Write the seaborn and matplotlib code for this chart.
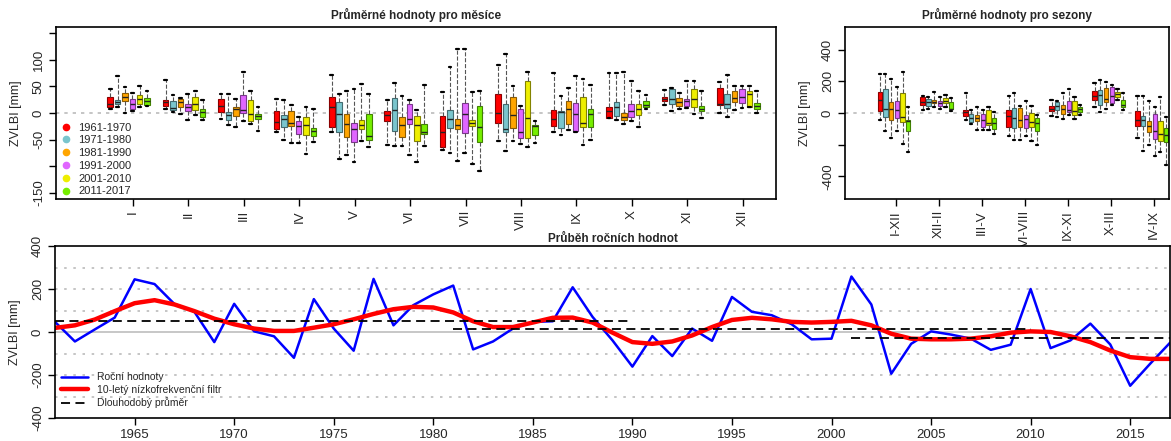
import numpy as np
import pandas as pd
import seaborn as sns
import matplotlib.pyplot as plt
import matplotlib.colors as mcolors
from matplotlib.lines import Line2D

sns.set_style("ticks")
plt.rcParams['font.family'] = ['Liberation Sans', 'DejaVu Sans']

decades = ["1961-1970", "1971-1980", "1981-1990", "1991-2000", "2001-2010", "2011-2017"]
box_colors = ["#FF0000", "#7AC5CD", "#FFA500", "#E066FF", "#EEEE00", "#76EE00"]
months = ["I", "II", "III", "IV", "V", "VI", "VII", "VIII", "IX", "X", "XI", "XII"]
seasons = ["I-XII", "XII-II", "III-V", "VI-VIII", "IX-XI", "X-III", "IV-IX"]

# [min, q1, median, q3, max] for every month, one list per decade
month_1961_1970 = [[7, 11, 17, 30, 45], [8, 14, 21, 25, 62], [-11, 1, 14, 26, 35], [-36, -30, -17, 3, 27],
                   [-36, -27, 11, 31, 72], [-60, -16, -3, 3, 24], [-69, -64, -36, -5, 39], [-53, -19, 0, 36, 91],
                   [-36, -25, -11, 6, 75], [-10, -9, 3, 12, 75], [15, 22, 26, 30, 44], [0, 16, 17, 47, 59]]
month_1971_1980 = [[11, 17, 20, 24, 70], [2, 5, 9, 22, 34], [-23, -14, -3, 1, 36], [-50, -26, -11, -3, 24],
                   [-87, -36, -2, 21, 36], [-62, -33, 6, 29, 56], [-75, -28, -11, 6, 87], [-71, -36, -31, 17, 112],
                   [-42, -28, 1, 4, 32], [-14, -6, 11, 21, 75], [3, 17, 26, 46, 48], [-7, 9, 17, 36, 72]]
month_1981_1990 = [[0, 23, 31, 37, 49], [-1, 11, 20, 26, 28], [-26, -6, 7, 12, 26], [-56, -24, -19, 3, 16],
                   [-79, -45, -21, -1, 41], [-62, -45, -22, -8, 32], [-91, -31, -23, -11, 121], [-53, -28, -3, 30, 50],
                   [-32, -20, 7, 22, 47], [-21, -14, -8, 0, 78], [8, 14, 20, 28, 37], [6, 21, 28, 41, 50]]
month_1991_2000 = [[4, 7, 17, 26, 37], [-13, 4, 12, 17, 36], [-16, 0, 6, 34, 77], [-57, -39, -25, -16, -7],
                   [-92, -54, -31, -19, 46], [-79, -20, -12, 17, 25], [-76, -37, -2, 19, 121], [-58, -48, -36, 7, 14],
                   [-36, -34, -2, 19, 69], [-16, -7, 3, 17, 61], [9, 14, 22, 27, 61], [9, 19, 31, 45, 50]]
month_2001_2010 = [[11, 17, 27, 33, 51], [-3, 6, 17, 31, 42], [-21, -16, -2, 25, 41], [-78, -41, -22, -8, 11],
                   [-52, -31, -22, -14, 54], [-92, -53, -22, -5, 5], [-97, -24, -19, -14, 39], [-64, -47, -9, 61, 78],
                   [-61, -26, -19, 30, 64], [-26, -4, 7, 17, 42], [-2, 11, 26, 45, 60], [11, 12, 36, 41, 50]]
month_2011_2017 = [[13, 15, 22, 29, 41], [-14, -8, 1, 8, 24], [-34, -11, -6, -2, 11], [-55, -44, -33, -28, 8],
                   [-64, -50, -44, -1, 36], [-62, -39, -36, -21, 52], [-109, -55, -26, 14, 42], [-56, -42, -24, -22, -16],
                   [-50, -27, -2, 7, 52], [7, 11, 16, 22, 34], [-10, 4, 8, 14, 42], [0, 7, 14, 19, 42]]

# [min, q1, median, q3, max] for every season, one list per decade
season_1961_1970 = [[-42, 11, 82, 133, 246], [17, 48, 69, 101, 109], [-42, -19, 4, 21, 124], [-143, -90, -17, 19, 105],
                    [-19, 13, 27, 44, 84], [38, 84, 109, 137, 187], [-160, -84, -46, 15, 105]]
season_1971_1980 = [[-116, -25, 25, 152, 246], [27, 42, 69, 88, 99], [-67, -55, -29, -8, 17], [-173, -95, -32, 34, 126],
                    [-25, 19, 46, 67, 78], [6, 53, 112, 143, 210], [-240, -84, -42, -21, 109]]
season_1981_1990 = [[-160, -44, 28, 70, 215], [36, 61, 72, 82, 130], [-105, -53, -34, -13, 36], [-168, -88, -46, 34, 42],
                    [-38, -4, 27, 50, 124], [27, 69, 88, 158, 198], [-204, -120, -84, -48, 78]]
season_1991_2000 = [[-116, -34, 21, 78, 162], [27, 46, 63, 76, 99], [-105, -88, -42, -4, 17], [-143, -95, -36, -11, 78],
                    [-15, 8, 21, 76, 154], [53, 63, 109, 162, 179], [-269, -164, -112, -8, 38]]
season_2001_2010 = [[-194, -59, -25, 126, 257], [36, 63, 78, 93, 112], [-105, -74, -63, 19, 36], [-179, -86, -55, 0, 46],
                    [-38, -15, 11, 78, 101], [84, 99, 118, 133, 152], [-248, -175, -133, -53, 99]]
season_2011_2017 = [[-248, -112, -53, -44, 40], [13, 25, 27, 72, 95], [-130, -101, -63, -32, 4], [-202, -114, -66, -34, -11],
                    [-15, 6, 23, 36, 50], [17, 38, 48, 82, 126], [-330, -181, -137, -93, -25]]

years = list(range(1961, 2018))
annual = [47, -44, 12, 67, 245, 223, 130, 94, -47, 131, 3, -20, -120, 153, 16, -87, 247, 31, 125, 175,
          216, -81, -44, 16, 47, 50, 208, 70, -39, -161, -19, -112, 16, -41, 163, 94, 78, 36, -34, -31,
          258, 128, -194, -55, 3, -12, -31, -83, -59, 200, -75, -39, 39, -58, -250, -148, -50]
lowpass = [19, 31, 58, 97, 134, 148, 128, 97, 62, 36, 16, 5, 5, 20, 36, 59, 84, 106, 117, 114,
           91, 50, 23, 23, 44, 66, 67, 44, -3, -47, -55, -44, -16, 23, 56, 66, 59, 47, 44, 47,
           52, 31, -8, -31, -34, -34, -31, -20, -3, 3, 0, -20, -47, -86, -117, -125, -125]
period_start = [1961, 1981, 2001]
period_end = [1990, 2010, 2017]
period_mean = [53, 16, -27]


def to_long(tables, cats):
    rows = []
    for dec, table in zip(decades, tables):
        for cat, five in zip(cats, table):
            for v in five:
                rows.append({"cat": cat, "decade": dec, "value": v})
    return pd.DataFrame(rows)


def darker(c, f=0.55):
    r, g, b = mcolors.to_rgb(c)
    return (r * f, g * f, b * f)


def draw_boxes(ax, df, order):
    ax.axhline(0, color="#BBBBBB", ls=(0, (2, 3)), lw=1.2, zorder=0)
    sns.boxplot(data=df, x="cat", y="value", hue="decade", order=order, hue_order=decades,
                palette=box_colors, saturation=1, whis=(0, 100), width=0.8, gap=0.25,
                linewidth=0.8, linecolor="#333333", legend=False, showfliers=False, ax=ax,
                capwidths=0.05,
                whiskerprops=dict(linestyle="--", color="#555555", linewidth=0.8),
                capprops=dict(color="black", linewidth=1.6),
                medianprops=dict(color="#222222", linewidth=1))
    for p in ax.patches:
        p.set_edgecolor(darker(p.get_facecolor()))


def style_axes(ax):
    for s in ax.spines.values():
        s.set_visible(True)
        s.set_color("black")
        s.set_linewidth(1.2)
    ax.tick_params(direction="out", length=5, width=1, color="black", labelsize=9.5, pad=3)
    ax.set_xlabel("")


fig = plt.figure(figsize=(11.71, 4.41), dpi=100)
ax_m = fig.add_axes([56 / 1171, 1 - 199 / 441, 720 / 1171, 172 / 441])
ax_s = fig.add_axes([845 / 1171, 1 - 199 / 441, 324 / 1171, 172 / 441])
ax_y = fig.add_axes([55 / 1171, 1 - 418 / 441, 1115 / 1171, 172 / 441])

# monthly boxes
month_df = to_long([month_1961_1970, month_1971_1980, month_1981_1990,
                    month_1991_2000, month_2001_2010, month_2011_2017], months)
draw_boxes(ax_m, month_df, months)
style_axes(ax_m)
ax_m.set_xlim(-1.31, 11.68)
ax_m.set_ylim(-162, 162)
ax_m.set_xticks(np.arange(len(months)) + 0.08)
ax_m.set_xticklabels(months, rotation=90)
ax_m.set_yticks([-150, -100, -50, 0, 50, 100, 150])
ax_m.set_yticklabels(["-150", "", "-50", "0", "50", "100", ""], rotation=90, va="center")
ax_m.set_ylabel("ZVLBI [mm]", fontsize=9, labelpad=8)
ax_m.set_title("Průměrné hodnoty pro měsíce", fontsize=8.5, fontweight="bold", pad=6)
handles = [Line2D([], [], marker="o", ls="", color=c, markersize=4.5) for c in box_colors]
ax_m.legend(handles, decades, loc="upper left", bbox_to_anchor=(-0.008, 0.47), frameon=False,
            fontsize=8, handletextpad=0.1, labelspacing=0.25, borderaxespad=0)

# seasonal boxes
season_df = to_long([season_1961_1970, season_1971_1980, season_1981_1990,
                     season_1991_2000, season_2001_2010, season_2011_2017], seasons)
draw_boxes(ax_s, season_df, seasons)
style_axes(ax_s)
ax_s.set_xlim(-1.14, 6.4)
ax_s.set_ylim(-543, 543)
ax_s.set_xticks(np.arange(len(seasons)) + 0.05)
ax_s.set_xticklabels(seasons, rotation=90)
ax_s.set_yticks([-400, -200, 0, 200, 400])
ax_s.set_yticklabels(["-400", "", "0", "200", "400"], rotation=90, va="center")
ax_s.set_ylabel("ZVLBI [mm]", fontsize=9, labelpad=8)
ax_s.set_title("Průměrné hodnoty pro sezony", fontsize=8.5, fontweight="bold", pad=6)

# annual course
for g in [-300, -200, -100, 100, 200, 300]:
    ax_y.axhline(g, color="#BBBBBB", ls=(0, (1.5, 4)), lw=1.2, zorder=0)
ax_y.axhline(0, color="#BEBEBE", lw=1.2, zorder=0)
sns.lineplot(x=years, y=annual, color="#0000FF", lw=1.8, ax=ax_y, label="Roční hodnoty")
sns.lineplot(x=years, y=lowpass, color="#FF0000", lw=3.2, ax=ax_y, label="10-letý nízkofrekvenční filtr")
ax_y.hlines(period_mean, period_start, period_end, colors="black", linestyles=(0, (5, 3)), lw=1.3,
            label="Dlouhodobý průměr")
style_axes(ax_y)
ax_y.set_xlim(1961, 2017)
ax_y.set_ylim(-400, 400)
ax_y.set_xticks(range(1965, 2016, 5))
ax_y.set_yticks([-400, -200, 0, 200, 400])
ax_y.set_yticklabels(["-400", "-200", "0", "200", "400"], rotation=90, va="center")
ax_y.set_ylabel("ZVLBI [mm]", fontsize=9, labelpad=8)
ax_y.set_title("Průběh ročních hodnot", fontsize=8.5, fontweight="bold", pad=3)
ax_y.legend(loc="lower left", bbox_to_anchor=(0.0, 0.02), frameon=False, fontsize=7.5,
            handlelength=2.6, labelspacing=0.25, borderaxespad=0.2)

fig.savefig("out.png", dpi=100)
